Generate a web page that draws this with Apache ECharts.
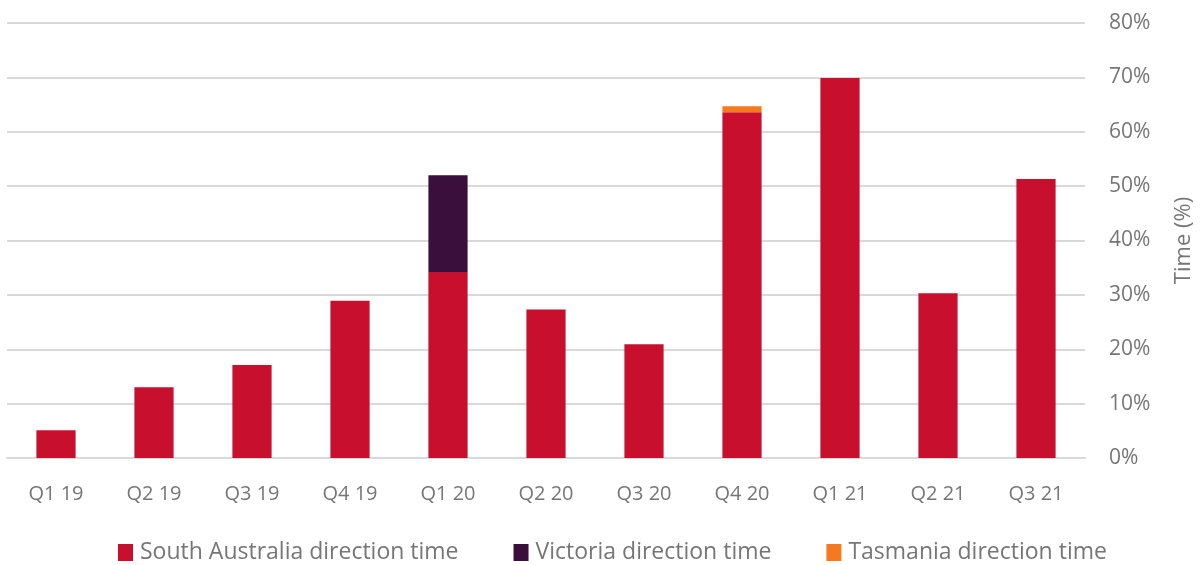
<!DOCTYPE html>
<html>
<head>
<meta charset="utf-8">
<script src="https://cdn.jsdelivr.net/npm/echarts@6/dist/echarts.min.js"></script>
<style>
  html, body { margin: 0; padding: 0; background: #fff; }
  #chart { width: 1203px; height: 565px; }
</style>
</head>
<body>
<div id="chart"></div>
<script>
// data
let quarters = ['Q1 19', 'Q2 19', 'Q3 19', 'Q4 19', 'Q1 20', 'Q2 20', 'Q3 20', 'Q4 20', 'Q1 21', 'Q2 21', 'Q3 21'];
let southAustralia = [5.1, 13.0, 17.1, 28.9, 34.2, 27.3, 20.9, 63.6, 69.9, 30.3, 51.3];
let victoria = [0, 0, 0, 0, 17.8, 0, 0, 0, 0, 0, 0];
let tasmania = [0, 0, 0, 0, 0, 0, 0, 1.1, 0, 0, 0];
let yTicks = [0, 10, 20, 30, 40, 50, 60, 70, 80];

let textColor = '#767676';
let font = "'Open Sans', 'Noto Sans', sans-serif";

let chart = echarts.init(document.getElementById('chart'));

function barSeries(name, data, color){
    return {
        name,
        type: 'bar',
        stack: 'time',
        data,
        barWidth: '40%',
        itemStyle: {color},
        emphasis: {disabled: true}
    };
}

let option = {
    animation: false,
    textStyle: {fontFamily: font},
    grid: {left: 7, right: 114, top: 23, bottom: 107, containLabel: false},
    legend: {
        top: 541,
        left: 118,
        padding: 0,
        itemWidth: 15,
        itemHeight: 17,
        itemGap: 55,
        icon: 'rect',
        textStyle: {color: textColor, fontSize: 23, fontFamily: font, padding: [0, 0, 0, 2]},
        data: ['South Australia direction time', 'Victoria direction time', 'Tasmania direction time']
    },
    xAxis: {
        type: 'category',
        data: quarters,
        axisLine: {lineStyle: {color: '#d9d9d9', width: 2}},
        axisTick: {show: false},
        axisLabel: {color: textColor, fontSize: 20, margin: 26, fontFamily: font}
    },
    yAxis: {
        type: 'value',
        position: 'right',
        min: yTicks[0],
        max: yTicks[yTicks.length - 1],
        interval: 10,
        name: 'Time (%)',
        nameLocation: 'middle',
        nameRotate: 90,
        nameGap: 88,
        nameTextStyle: {color: textColor, fontSize: 22, fontFamily: font},
        axisLine: {show: false},
        axisTick: {show: false},
        axisLabel: {color: textColor, fontSize: 21, margin: 24, fontFamily: font, formatter: '{value}%'},
        splitLine: {lineStyle: {color: '#d9d9d9', width: 2}}
    },
    series: [
        barSeries('South Australia direction time', southAustralia, '#c8102e'),
        barSeries('Victoria direction time', victoria, '#3a0f3c'),
        barSeries('Tasmania direction time', tasmania, '#f47920')
    ]
};

chart.setOption(option);
</script>
</body>
</html>
